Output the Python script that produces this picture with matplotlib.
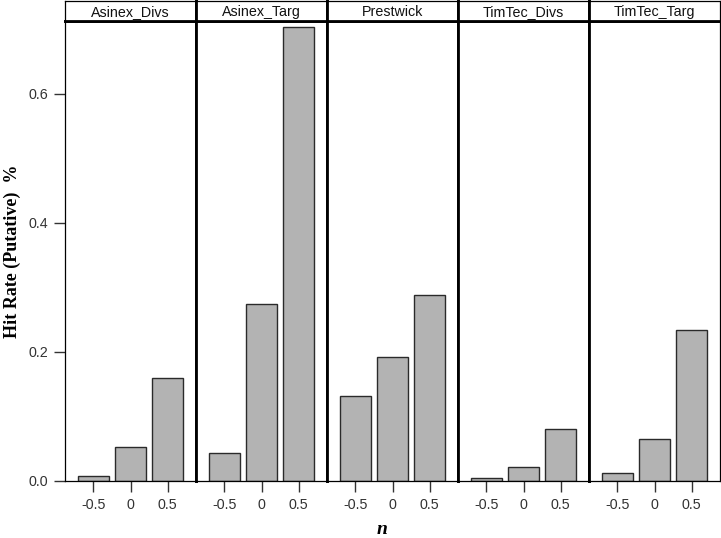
import matplotlib
matplotlib.use("Agg")
import matplotlib.pyplot as plt
import numpy as np

panels = ["Asinex_Divs", "Asinex_Targ", "Prestwick", "TimTec_Divs", "TimTec_Targ"]
n_labels = ["-0.5", "0", "0.5"]
values = {
    "Asinex_Divs": [0.007, 0.053, 0.160],
    "Asinex_Targ": [0.043, 0.275, 0.704],
    "Prestwick":   [0.132, 0.192, 0.288],
    "TimTec_Divs": [0.005, 0.022, 0.080],
    "TimTec_Targ": [0.012, 0.065, 0.234],
}
yticks = [0.0, 0.2, 0.4, 0.6]

W, H = 721, 538
fig = plt.figure(figsize=(W/100, H/100), dpi=100)
plt.rcParams['font.family'] = ['Liberation Sans', 'DejaVu Sans']

left_px, right_px = 65, 720
top_px, bot_px, head_top_px = 21, 481, 0.5
pw = (right_px - left_px) / len(panels)
thick, thin = 2.0, 0.9
txtc = '#333333'

x = np.arange(len(n_labels)) - 1
for i, name in enumerate(panels):
    l = (left_px + i * pw) / W
    ax = fig.add_axes([l, 1 - bot_px / H, pw / W, (bot_px - top_px) / H])
    ax.bar(x, values[name], width=0.86, color='#b3b3b3', edgecolor='#2a2a2a', linewidth=1.0, zorder=2)
    ax.set_xlim(-1.77, 1.77)
    ax.set_ylim(0, 0.713)
    ax.set_xticks(x)
    ax.set_xticklabels(n_labels)
    ax.tick_params(axis='x', length=8, width=1, color='#333333', labelsize=10.3, labelcolor=txtc, pad=4)
    ax.spines['bottom'].set_linewidth(thin)
    ax.spines['top'].set_linewidth(thick)
    ax.spines['left'].set_linewidth(thin if i == 0 else thick)
    ax.spines['right'].set_linewidth(thin if i == len(panels) - 1 else thick)
    for s in ax.spines.values():
        s.set_color('black')
    if i == 0:
        ax.set_yticks(yticks)
        ax.set_yticklabels([f"{v:.1f}" for v in yticks])
        ax.tick_params(axis='y', length=8, width=1, color='#333333', labelsize=10.3, labelcolor=txtc, pad=4)
    else:
        ax.set_yticks([])
    # header
    hax = fig.add_axes([l, 1 - top_px / H, pw / W, (top_px - head_top_px) / H])
    hax.set_xticks([]); hax.set_yticks([])
    hax.set_xlim(0, 1); hax.set_ylim(0, 1)
    hax.spines['top'].set_linewidth(thin)
    hax.spines['bottom'].set_linewidth(thick)
    hax.spines['left'].set_linewidth(thin if i == 0 else thick)
    hax.spines['right'].set_linewidth(thin if i == len(panels) - 1 else thick)
    hax.text(0.5, 0.45, name, ha='center', va='center', fontsize=10.3, color='#111111')

fig.text(12 / W, 1 - 251 / H, "Hit Rate (Putative)  %", rotation=90, ha='center', va='center',
         fontsize=13, fontweight='bold', family=['Liberation Serif', 'DejaVu Serif'])
fig.text(382 / W, 1 - 530 / H, "n", ha='center', va='center', fontsize=14, fontweight='bold',
         fontstyle='italic', family=['Liberation Serif', 'DejaVu Serif'])

fig.savefig("out.png", dpi=100)
